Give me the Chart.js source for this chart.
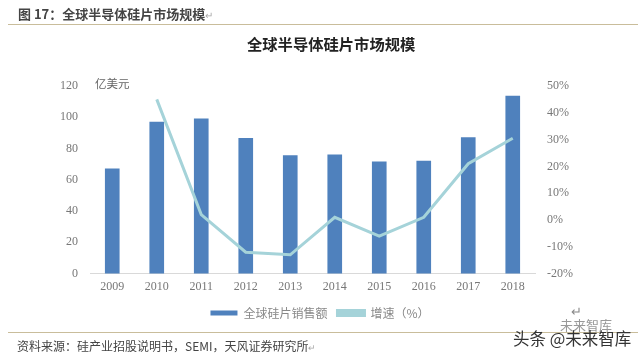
<!DOCTYPE html>
<html>
<head>
<meta charset="utf-8">
<script src="https://cdn.jsdelivr.net/npm/chart.js@4/dist/chart.umd.min.js"></script>
<style>
html, body { margin: 0; padding: 0; background: #fff; }
#wrap { position: relative; width: 640px; height: 356px; overflow: hidden; font-family: "Noto Sans CJK SC", sans-serif; filter: blur(0.35px); }
#wrap canvas { position: absolute; left: 0; top: 0; }
.txt { position: absolute; white-space: nowrap; }
.rule { position: absolute; left: 8px; width: 630px; height: 1px; background: #c9bd9b; }
</style>
</head>
<body>
<div id="wrap">
    <canvas id="grafico" width="640" height="356"></canvas>
    <div class="txt" style="left:18px;top:4px;font-size:13px;font-weight:700;color:#444;">图 17：全球半导体硅片市场规模<span style="color:#aaa;font-weight:400;font-size:10px;">↵</span></div>
    <div class="rule" style="top:24px;"></div>
    <div class="rule" style="top:332px;"></div>
    <div class="txt" style="left:247px;top:32px;font-size:15.3px;font-weight:700;color:#222;">全球半导体硅片市场规模</div>
    <div class="txt" style="left:95px;top:75px;font-size:11.5px;color:#666;">亿美元</div>
    <div class="txt" style="left:571px;top:301px;font-size:13px;color:#888;">↵</div>
    <div class="txt" style="left:17px;top:337px;font-size:12px;color:#444;">资料来源：硅产业招股说明书，SEMI，天风证券研究所<span style="color:#aaa;font-size:9px;">↵</span></div>
    <div class="txt" style="left:560px;top:315px;font-size:13px;color:#999;">未来智库</div>
    <div class="txt" style="left:513px;top:326px;font-size:16.5px;color:#333;">头条 @未来智库</div>
</div>
<script>
const anos = ["2009", "2010", "2011", "2012", "2013", "2014", "2015", "2016", "2017", "2018"];
const vendas = [67, 97, 99, 86.5, 75.5, 76, 71.5, 72, 87, 113.5];
const crescimento = [null, 45, 2, -12, -13, 1, -6, 1, 21, 30.5];
const ticksEsquerda = [0, 20, 40, 60, 80, 100, 120];
const ticksDireita = [-20, -10, 0, 10, 20, 30, 40, 50];

const fonteEixo = { family: "'Liberation Serif', serif", size: 12 };
const corTexto = "#777";

new Chart(document.getElementById("grafico").getContext("2d"), {
    type: "bar",
    data: {
        labels: anos,
        datasets: [
            {
                type: "line",
                label: "增速（%）",
                data: crescimento,
                yAxisID: "y1",
                borderColor: "#a5d3d9",
                backgroundColor: "#a5d3d9",
                borderWidth: 3,
                pointRadius: 0,
                tension: 0,
                order: 1
            },
            {
                label: "全球硅片销售额",
                data: vendas,
                yAxisID: "y",
                backgroundColor: "#4f81bd",
                barThickness: 14,
                order: 2
            }
        ]
    },
    options: {
        responsive: false,
        animation: false,
        layout: { padding: { top: 86, bottom: 27 } },
        plugins: {
            legend: {
                position: "bottom",
                reverse: true,
                labels: {
                    boxWidth: 27,
                    boxHeight: 5,
                    color: "#888",
                    font: { family: "'Noto Sans CJK SC'", size: 12 },
                    padding: 10
                }
            },
            tooltip: { enabled: false }
        },
        scales: {
            x: {
                afterFit: s => { s.height -= 4; },
                grid: { display: false, drawTicks: false },
                border: { color: "#d9d9d9" },
                ticks: { color: corTexto, font: fonteEixo, padding: 6.5 }
            },
            y: {
                min: 0,
                max: 120,
                afterFit: s => { s.width = 90; },
                afterBuildTicks: s => { s.ticks = ticksEsquerda.map(v => ({ value: v })); },
                grid: { display: false, drawTicks: false },
                border: { display: false },
                ticks: { color: corTexto, font: fonteEixo, padding: 12 }
            },
            y1: {
                position: "right",
                min: -20,
                max: 50,
                afterFit: s => { s.width = 105; },
                afterBuildTicks: s => { s.ticks = ticksDireita.map(v => ({ value: v })); },
                grid: { display: false, drawTicks: false },
                border: { display: false },
                ticks: { color: corTexto, font: fonteEixo, padding: 12, callback: v => v + "%" }
            }
        }
    }
});
</script>
</body>
</html>
